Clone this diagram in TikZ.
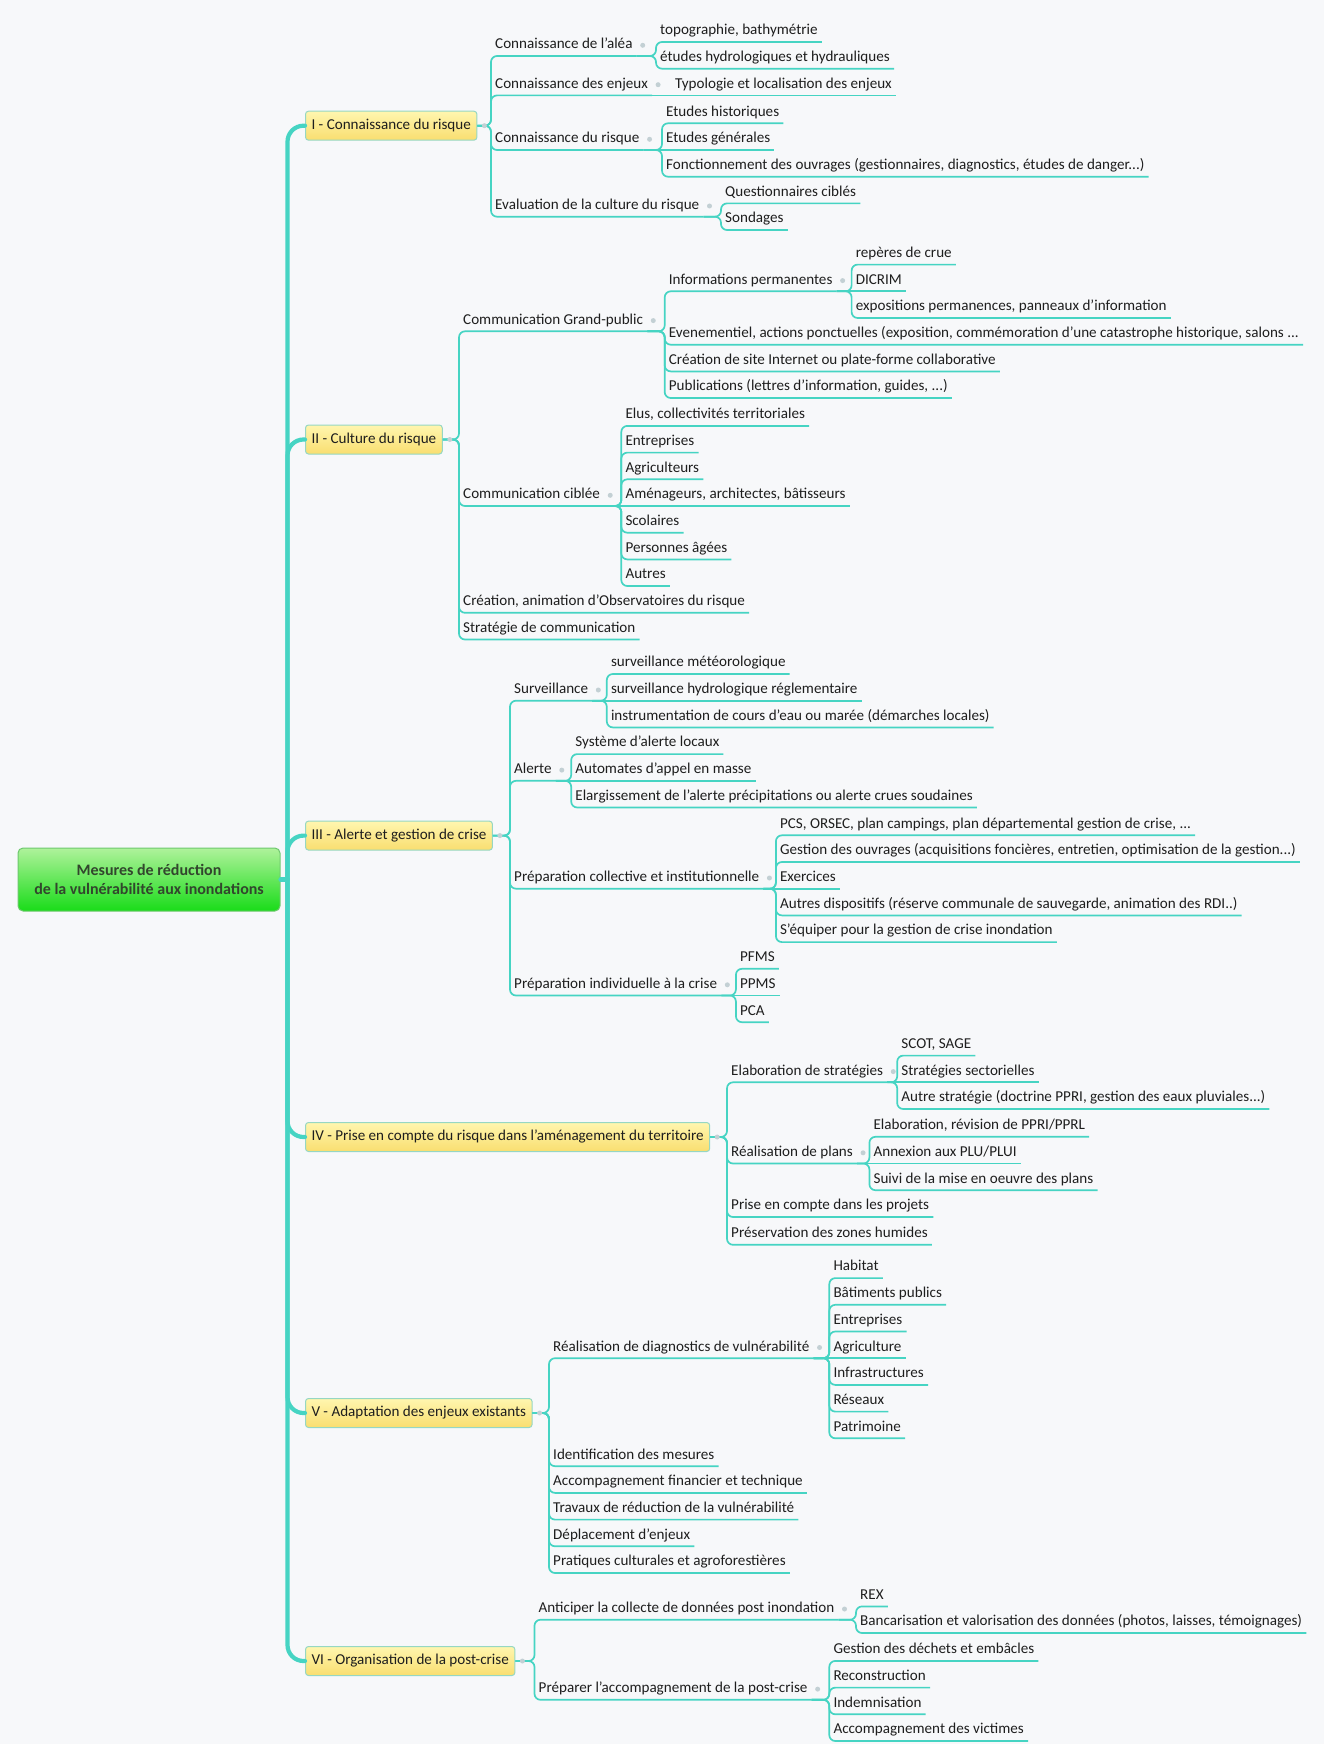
\documentclass[tikz,border=0pt]{standalone}
\usepackage{fontspec}
\setmainfont{Carlito}
\usetikzlibrary{calc}
\definecolor{bgc}{RGB}{247,248,250}
\definecolor{tealc}{RGB}{70,212,195}
\definecolor{txtc}{RGB}{30,30,30}
\definecolor{knobc}{RGB}{195,208,212}
\definecolor{boxtop}{RGB}{255,246,175}
\definecolor{boxbot}{RGB}{249,222,112}
\definecolor{boxbrd}{RGB}{150,215,195}
\definecolor{roottop}{RGB}{175,242,155}
\definecolor{rootmid}{RGB}{60,230,50}
\definecolor{rootbot}{RGB}{25,220,25}
\definecolor{rootbrd}{RGB}{110,200,110}
\definecolor{roottxt}{RGB}{50,70,45}
\tikzset{
  lnk/.style={draw=tealc, line width=1.7pt, rounded corners=6pt},
  trunkline/.style={draw=tealc, line width=4.2pt, rounded corners=16pt, line cap=round},
  itm/.style={anchor=south west, inner xsep=4pt, inner ysep=3pt, text height=11pt, text depth=4pt, font=\fontsize{15.1}{18}\selectfont, text=txtc},
  lvlone/.style={anchor=west, draw=boxbrd, line width=1pt, rounded corners=3pt, top color=boxtop, bottom color=boxbot, inner xsep=6pt, inner ysep=0pt, minimum height=29pt, text height=11pt, text depth=4pt, font=\fontsize{15.1}{18}\selectfont, text=txtc},
  rootbox/.style={draw=rootbrd, line width=1pt, rounded corners=5pt, top color=roottop, middle color=rootmid, bottom color=rootbot, minimum width=262pt, minimum height=63pt, align=center, font=\bfseries\fontsize{16}{18.5}\selectfont, text=roottxt},
  knob/.style={circle, fill=knobc, inner sep=0pt, minimum size=5pt},
}
\begin{document}
\begin{tikzpicture}[x=1pt,y=-1pt]
\fill[bgc] (0,0) rectangle (1324,1744);
\useasboundingbox (0,0) rectangle (1324,1744);

% root
\node[rootbox] (root) at (149,879.5) {Mesures de réduction\\de la vulnérabilité aux inondations};

% level one
\node[lvlone] (L1) at (305,125.7) {I - Connaissance du risque};
\node[lvlone] (L2) at (305,439.5) {II - Culture du risque};
\node[lvlone] (L3) at (305,835.6) {III - Alerte et gestion de crise};
\node[lvlone] (L4) at (305,1137) {IV - Prise en compte du risque dans l'aménagement du territoire};
\node[lvlone] (L5) at (305,1413) {V - Adaptation des enjeux existants};
\node[lvlone] (L6) at (305,1661) {VI - Organisation de la post-crise};

% section I
\node[itm] (a1) at (491,56) {Connaissance de l'aléa};
\node[itm] (a11) at (656,42) {topographie, bathymétrie};
\node[itm] (a12) at (656,68.7) {études hydrologiques et hydrauliques};
\node[itm] (a2) at (491,95.4) {Connaissance des enjeux};
\node[itm] (a21) at (671,95.4) {Typologie et localisation des enjeux};
\node[itm] (a3) at (491,150) {Connaissance du risque};
\node[itm] (a31) at (662,123.3) {Etudes historiques};
\node[itm] (a32) at (662,150) {Etudes générales};
\node[itm] (a33) at (662,176.7) {Fonctionnement des ouvrages (gestionnaires, diagnostics, études de danger...)};
\node[itm] (a4) at (491,216.7) {Evaluation de la culture du risque};
\node[itm] (a41) at (721,203.4) {Questionnaires ciblés};
\node[itm] (a42) at (721,230) {Sondages};

% section II
\node[itm] (b1) at (459,331.3) {Communication Grand-public};
\node[itm] (b11) at (664.7,291.3) {Informations permanentes};
\node[itm] (b111) at (851.6,264.6) {repères de crue};
\node[itm] (b112) at (851.6,291.3) {DICRIM};
\node[itm] (b113) at (851.6,318) {expositions permanences, panneaux d'information};
\node[itm] (b12) at (664.7,344.7) {Evenementiel, actions ponctuelles (exposition, commémoration d'une catastrophe historique, salons ...};
\node[itm] (b13) at (664.7,371.4) {Création de site Internet ou plate-forme collaborative};
\node[itm] (b14) at (664.7,398) {Publications (lettres d'information, guides, ...)};
\node[itm] (b2) at (459,506) {Communication ciblée};
\node[itm] (b21) at (621.3,425.9) {Elus, collectivités territoriales};
\node[itm] (b22) at (621.3,452.6) {Entreprises};
\node[itm] (b23) at (621.3,479.3) {Agriculteurs};
\node[itm] (b24) at (621.3,506) {Aménageurs, architectes, bâtisseurs};
\node[itm] (b25) at (621.3,532.7) {Scolaires};
\node[itm] (b26) at (621.3,559.4) {Personnes âgées};
\node[itm] (b27) at (621.3,586) {Autres};
\node[itm] (b3) at (459,612.8) {Création, animation d'Observatoires du risque};
\node[itm] (b4) at (459,639.5) {Stratégie de communication};

% section III
\node[itm] (c1) at (510,700.7) {Surveillance};
\node[itm] (c11) at (606.8,674) {surveillance météorologique};
\node[itm] (c12) at (606.8,700.7) {surveillance hydrologique réglementaire};
\node[itm] (c13) at (606.8,727.4) {instrumentation de cours d'eau ou marée (démarches locales)};
\node[itm] (c2) at (510,780.8) {Alerte};
\node[itm] (c21) at (571.2,754.1) {Système d'alerte locaux};
\node[itm] (c22) at (571.2,780.8) {Automates d'appel en masse};
\node[itm] (c23) at (571.2,807.5) {Elargissement de l'alerte précipitations ou alerte crues soudaines};
\node[itm] (c3) at (510,888.7) {Préparation collective et institutionnelle};
\node[itm] (c31) at (775.9,835.3) {PCS, ORSEC, plan campings, plan départemental gestion de crise, ...};
\node[itm] (c32) at (775.9,862) {Gestion des ouvrages (acquisitions foncières, entretien, optimisation de la gestion...)};
\node[itm] (c33) at (775.9,888.7) {Exercices};
\node[itm] (c34) at (775.9,915.4) {Autres dispositifs (réserve communale de sauvegarde, animation des RDI..)};
\node[itm] (c35) at (775.9,942.1) {S'équiper pour la gestion de crise inondation};
\node[itm] (c4) at (510,995.5) {Préparation individuelle à la crise};
\node[itm] (c41) at (735.9,968.8) {PFMS};
\node[itm] (c42) at (735.9,995.5) {PPMS};
\node[itm] (c43) at (735.9,1022.2) {PCA};

% section IV
\node[itm] (d1) at (727,1082.3) {Elaboration de stratégies};
\node[itm] (d11) at (897.2,1055.6) {SCOT, SAGE};
\node[itm] (d12) at (897.2,1082.3) {Stratégies sectorielles};
\node[itm] (d13) at (897.2,1109) {Autre stratégie (doctrine PPRI, gestion des eaux pluviales...)};
\node[itm] (d2) at (727,1163.5) {Réalisation de plans};
\node[itm] (d21) at (869.4,1136.8) {Elaboration, révision de PPRI/PPRL};
\node[itm] (d22) at (869.4,1163.5) {Annexion aux PLU/PLUI};
\node[itm] (d23) at (869.4,1190.2) {Suivi de la mise en oeuvre des plans};
\node[itm] (d3) at (727,1217) {Prise en compte dans les projets};
\node[itm] (d4) at (727,1244.8) {Préservation des zones humides};

% section V
\node[itm] (e1) at (549,1358.2) {Réalisation de diagnostics de vulnérabilité};
\node[itm] (e11) at (829.3,1278.1) {Habitat};
\node[itm] (e12) at (829.3,1304.8) {Bâtiments publics};
\node[itm] (e13) at (829.3,1331.5) {Entreprises};
\node[itm] (e14) at (829.3,1358.2) {Agriculture};
\node[itm] (e15) at (829.3,1384.9) {Infrastructures};
\node[itm] (e16) at (829.3,1411.6) {Réseaux};
\node[itm] (e17) at (829.3,1438.3) {Patrimoine};
\node[itm] (e2) at (549,1466.2) {Identification des mesures};
\node[itm] (e3) at (549,1492.9) {Accompagnement financier et technique};
\node[itm] (e4) at (549,1519.6) {Travaux de réduction de la vulnérabilité};
\node[itm] (e5) at (549,1546.3) {Déplacement d'enjeux};
\node[itm] (e6) at (549,1573) {Pratiques culturales et agroforestières};

% section VI
\node[itm] (f1) at (534.5,1619.7) {Anticiper la collecte de données post inondation};
\node[itm] (f11) at (856,1606.4) {REX};
\node[itm] (f12) at (856,1633) {Bancarisation et valorisation des données (photos, laisses, témoignages)};
\node[itm] (f2) at (534.5,1699.8) {Préparer l'accompagnement de la post-crise};
\node[itm] (f21) at (829.3,1660.9) {Gestion des déchets et embâcles};
\node[itm] (f22) at (829.3,1687.6) {Reconstruction};
\node[itm] (f23) at (829.3,1714.3) {Indemnisation};
\node[itm] (f24) at (829.3,1741) {Accompagnement des victimes};

% trunk
\coordinate (tr) at ([xshift=7pt]root.east);
\draw[trunkline] (root.east) -- (tr);
\foreach \n in {L1,L2,L3,L4,L5,L6} {\draw[trunkline] (tr) |- (\n.west);}

% connectors from level one boxes
\foreach \p/\c in {L1/a1,L1/a2,L1/a3,L1/a4,L2/b1,L2/b2,L2/b3,L2/b4,L3/c1,L3/c2,L3/c3,L3/c4,L4/d1,L4/d2,L4/d3,L4/d4,L5/e1,L5/e2,L5/e3,L5/e4,L5/e5,L5/e6,L6/f1,L6/f2}
  {\draw[lnk] (\p.east) -| (\c.south west) -- (\c.south east);}

% bent connectors between items
\foreach \p/\c in {a1/a11,a1/a12,a3/a31,a3/a33,a4/a41,a4/a42,b1/b11,b1/b12,b1/b13,b1/b14,b11/b111,b11/b113,b2/b21,b2/b22,b2/b23,b2/b25,b2/b26,b2/b27,c1/c11,c1/c13,c2/c21,c2/c23,c3/c31,c3/c32,c3/c34,c3/c35,c4/c41,c4/c43,d1/d11,d1/d13,d2/d21,d2/d23,e1/e11,e1/e12,e1/e13,e1/e15,e1/e16,e1/e17,f1/f11,f1/f12,f2/f21,f2/f22,f2/f23,f2/f24}
  {\draw[lnk] (\p.south east) -| (\c.south west) -- (\c.south east);}

% straight connectors (same level)
\foreach \p/\c in {a2/a21,a3/a32,b11/b112,b2/b24,c1/c12,c2/c22,c3/c33,c4/c42,d1/d12,d2/d22,e1/e14}
  {\draw[lnk] (\p.south east) -- (\c.south east);}

% knobs
\foreach \n in {L1,L2,L3,L4,L5,L6} {\node[knob] (k\n) at ([xshift=7pt]\n.east) {};}
\foreach \n in {a1,a2,a3,a4,b1,b11,b2,c1,c2,c3,c4,d1,d2,e1,f1,f2} {\node[knob] (k\n) at ([xshift=6pt]\n.east) {};}
\end{tikzpicture}
\end{document}
